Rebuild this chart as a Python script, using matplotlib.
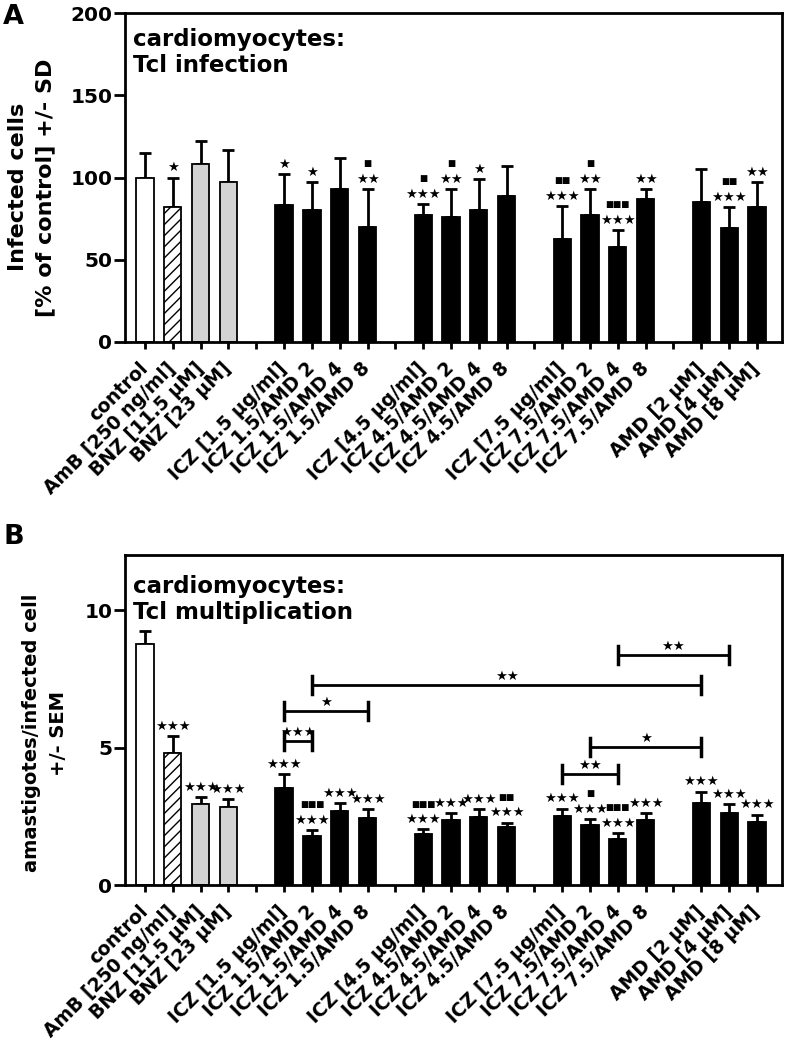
import numpy as np
import matplotlib
matplotlib.use("Agg")
import matplotlib.pyplot as plt

plt.rcParams["font.family"] = ["DejaVu Sans"]
plt.rcParams["font.weight"] = "bold"
plt.rcParams["hatch.linewidth"] = 1.0

# treatments, grouped (one empty slot between groups)
GROUPS = [
    ["control", "AmB [250 ng/ml]", "BNZ [11.5 μM]", "BNZ [23 μM]"],
    ["ICZ [1.5 μg/ml]", "ICZ 1.5/AMD 2", "ICZ 1.5/AMD 4", "ICZ 1.5/AMD 8"],
    ["ICZ [4.5 μg/ml]", "ICZ 4.5/AMD 2", "ICZ 4.5/AMD 4", "ICZ 4.5/AMD 8"],
    ["ICZ [7.5 μg/ml]", "ICZ 7.5/AMD 2", "ICZ 7.5/AMD 4", "ICZ 7.5/AMD 8"],
    ["AMD [2 μM]", "AMD [4 μM]", "AMD [8 μM]"],
]

# panel A: infected cells [% of control] +/- SD
infected_mean = [100, 82, 108, 97, 83, 80, 93, 70, 77, 76, 80, 89, 62.5, 77, 58, 87, 85, 69, 82]
infected_sd = [15, 18, 14, 20, 19, 17, 19, 23, 7, 17, 19, 18, 20, 16, 10, 6, 20, 13, 15]
infected_stars = ["", "*", "", "", "*", "*", "", "**", "***", "**", "*", "",
                  "***", "**", "***", "**", "", "***", "**"]
infected_squares = ["", "", "", "", "", "", "", "■", "■", "■", "", "",
                    "■■", "■", "■■■", "", "", "■■", ""]

# panel B: amastigotes / infected cell +/- SEM
amast_mean = [8.75, 4.8, 2.93, 2.82, 3.52, 1.8, 2.7, 2.45, 1.84, 2.36, 2.48, 2.12,
              2.51, 2.17, 1.68, 2.36, 3.0, 2.63, 2.29]
amast_sem = [0.5, 0.62, 0.28, 0.3, 0.52, 0.19, 0.28, 0.31, 0.18, 0.27, 0.28, 0.15,
             0.27, 0.24, 0.2, 0.25, 0.4, 0.3, 0.27]
amast_stars = [""] + ["***"] * 18
amast_squares = ["", "", "", "", "", "■■■", "", "", "■■■", "", "", "■■",
                 "", "■", "■■■", "", "", "", ""]
# brackets: (bar from, bar to, height, label)
amast_brackets = [
    (4, 5, 5.23, "***"),
    (4, 7, 6.33, "*"),
    (5, 16, 7.27, "**"),
    (12, 14, 4.04, "**"),
    (13, 16, 5.02, "*"),
    (14, 17, 8.36, "**"),
]

labels = [name for g in GROUPS for name in g]
pos = []
start = 0
for g in GROUPS:
    pos.extend(range(start, start + len(g)))
    start += len(g) + 1
pos = np.array(pos)
n_slots = pos[-1] + 1
tick_labels = [""] * n_slots
for p, name in zip(pos, labels):
    tick_labels[p] = name

GRAY = "#d3d3d3"
fills = ["white", "white", GRAY, GRAY] + ["black"] * (len(labels) - 4)
hatches = ["", "///", "", ""] + [""] * (len(labels) - 4)
STAR_SIZE = 9.5


def put_stars(ax, s, x, y, dy):
    # significance stars drawn as five-pointed stars
    ax.annotate(s.replace("*", "★"), (x, y), xytext=(0, dy),
                textcoords="offset points", ha="center", va="baseline",
                fontsize=STAR_SIZE, fontweight="normal")


def draw_panel(ax, means, errs, stars, squares, ymax, yticks):
    means = np.array(means)
    errs = np.array(errs)
    ax.bar(pos, means, width=0.62, color=fills, edgecolor="black",
           linewidth=1.3, hatch=hatches, zorder=2)
    ax.errorbar(pos, means, yerr=[np.zeros_like(errs), errs], fmt="none",
                ecolor="black", elinewidth=2, capsize=4.5, capthick=2, zorder=1)

    for x, top, s, q in zip(pos, means + errs, stars, squares):
        if s:
            put_stars(ax, s, x, top, 4.5)
        if q:
            ax.annotate(q, (x, top), xytext=(0, 16.5), textcoords="offset points",
                        ha="center", va="baseline", fontsize=6.2,
                        fontweight="normal")

    ax.set_xlim(-0.72, n_slots - 0.1)
    ax.set_ylim(0, ymax)
    ax.set_yticks(yticks)
    ax.set_xticks(range(n_slots))
    ax.set_xticklabels(tick_labels, rotation=45, ha="right", va="center",
                       rotation_mode="anchor", fontsize=13.5, fontweight="bold")
    ax.tick_params(axis="y", length=8, width=2, pad=1, labelsize=14.5)
    ax.tick_params(axis="x", length=5, width=2, pad=12)
    for sp in ax.spines.values():
        sp.set_linewidth(2)


fig = plt.figure(figsize=(7.89, 10.5), dpi=100)
axA = fig.add_axes([0.1584, 0.6743, 0.8327, 0.3133])
axB = fig.add_axes([0.1584, 0.1571, 0.8327, 0.3143])

draw_panel(axA, infected_mean, infected_sd, infected_stars, infected_squares,
           200, [0, 50, 100, 150, 200])
draw_panel(axB, amast_mean, amast_sem, amast_stars, amast_squares,
           12, [0, 5, 10])

axA.set_ylabel("Infected cells\n[% of control] +/- SD", fontsize=16,
               fontweight="bold", linespacing=1.45)
axA.yaxis.set_label_coords(-0.106, 0.47)
axB.set_ylabel("amastigotes/infected cell\n+/- SEM", fontsize=14,
               fontweight="bold", linespacing=1.5)
axB.yaxis.set_label_coords(-0.087, 0.46)

axA.text(0.012, 0.955, "cardiomyocytes:\nTcl infection", transform=axA.transAxes,
         ha="left", va="top", fontsize=16.5, fontweight="bold", linespacing=1.15)
axB.text(0.012, 0.94, "cardiomyocytes:\nTcl multiplication", transform=axB.transAxes,
         ha="left", va="top", fontsize=16.5, fontweight="bold", linespacing=1.15)

# significance brackets between treatments
for i, j, h, txt in amast_brackets:
    x1, x2 = pos[i], pos[j]
    axB.plot([x1, x2], [h, h], color="black", lw=2, solid_capstyle="butt")
    axB.plot([x1, x1], [h - 0.33, h + 0.33], color="black", lw=2.5)
    axB.plot([x2, x2], [h - 0.33, h + 0.33], color="black", lw=2.5)
    put_stars(axB, txt, (x1 + x2) / 2, h, 3.5)

fig.text(0.004, 0.996, "A", fontsize=19.5, fontweight="bold", va="top", ha="left")
fig.text(0.004, 0.501, "B", fontsize=19.5, fontweight="bold", va="top", ha="left")

fig.savefig("out.png", dpi=100)
